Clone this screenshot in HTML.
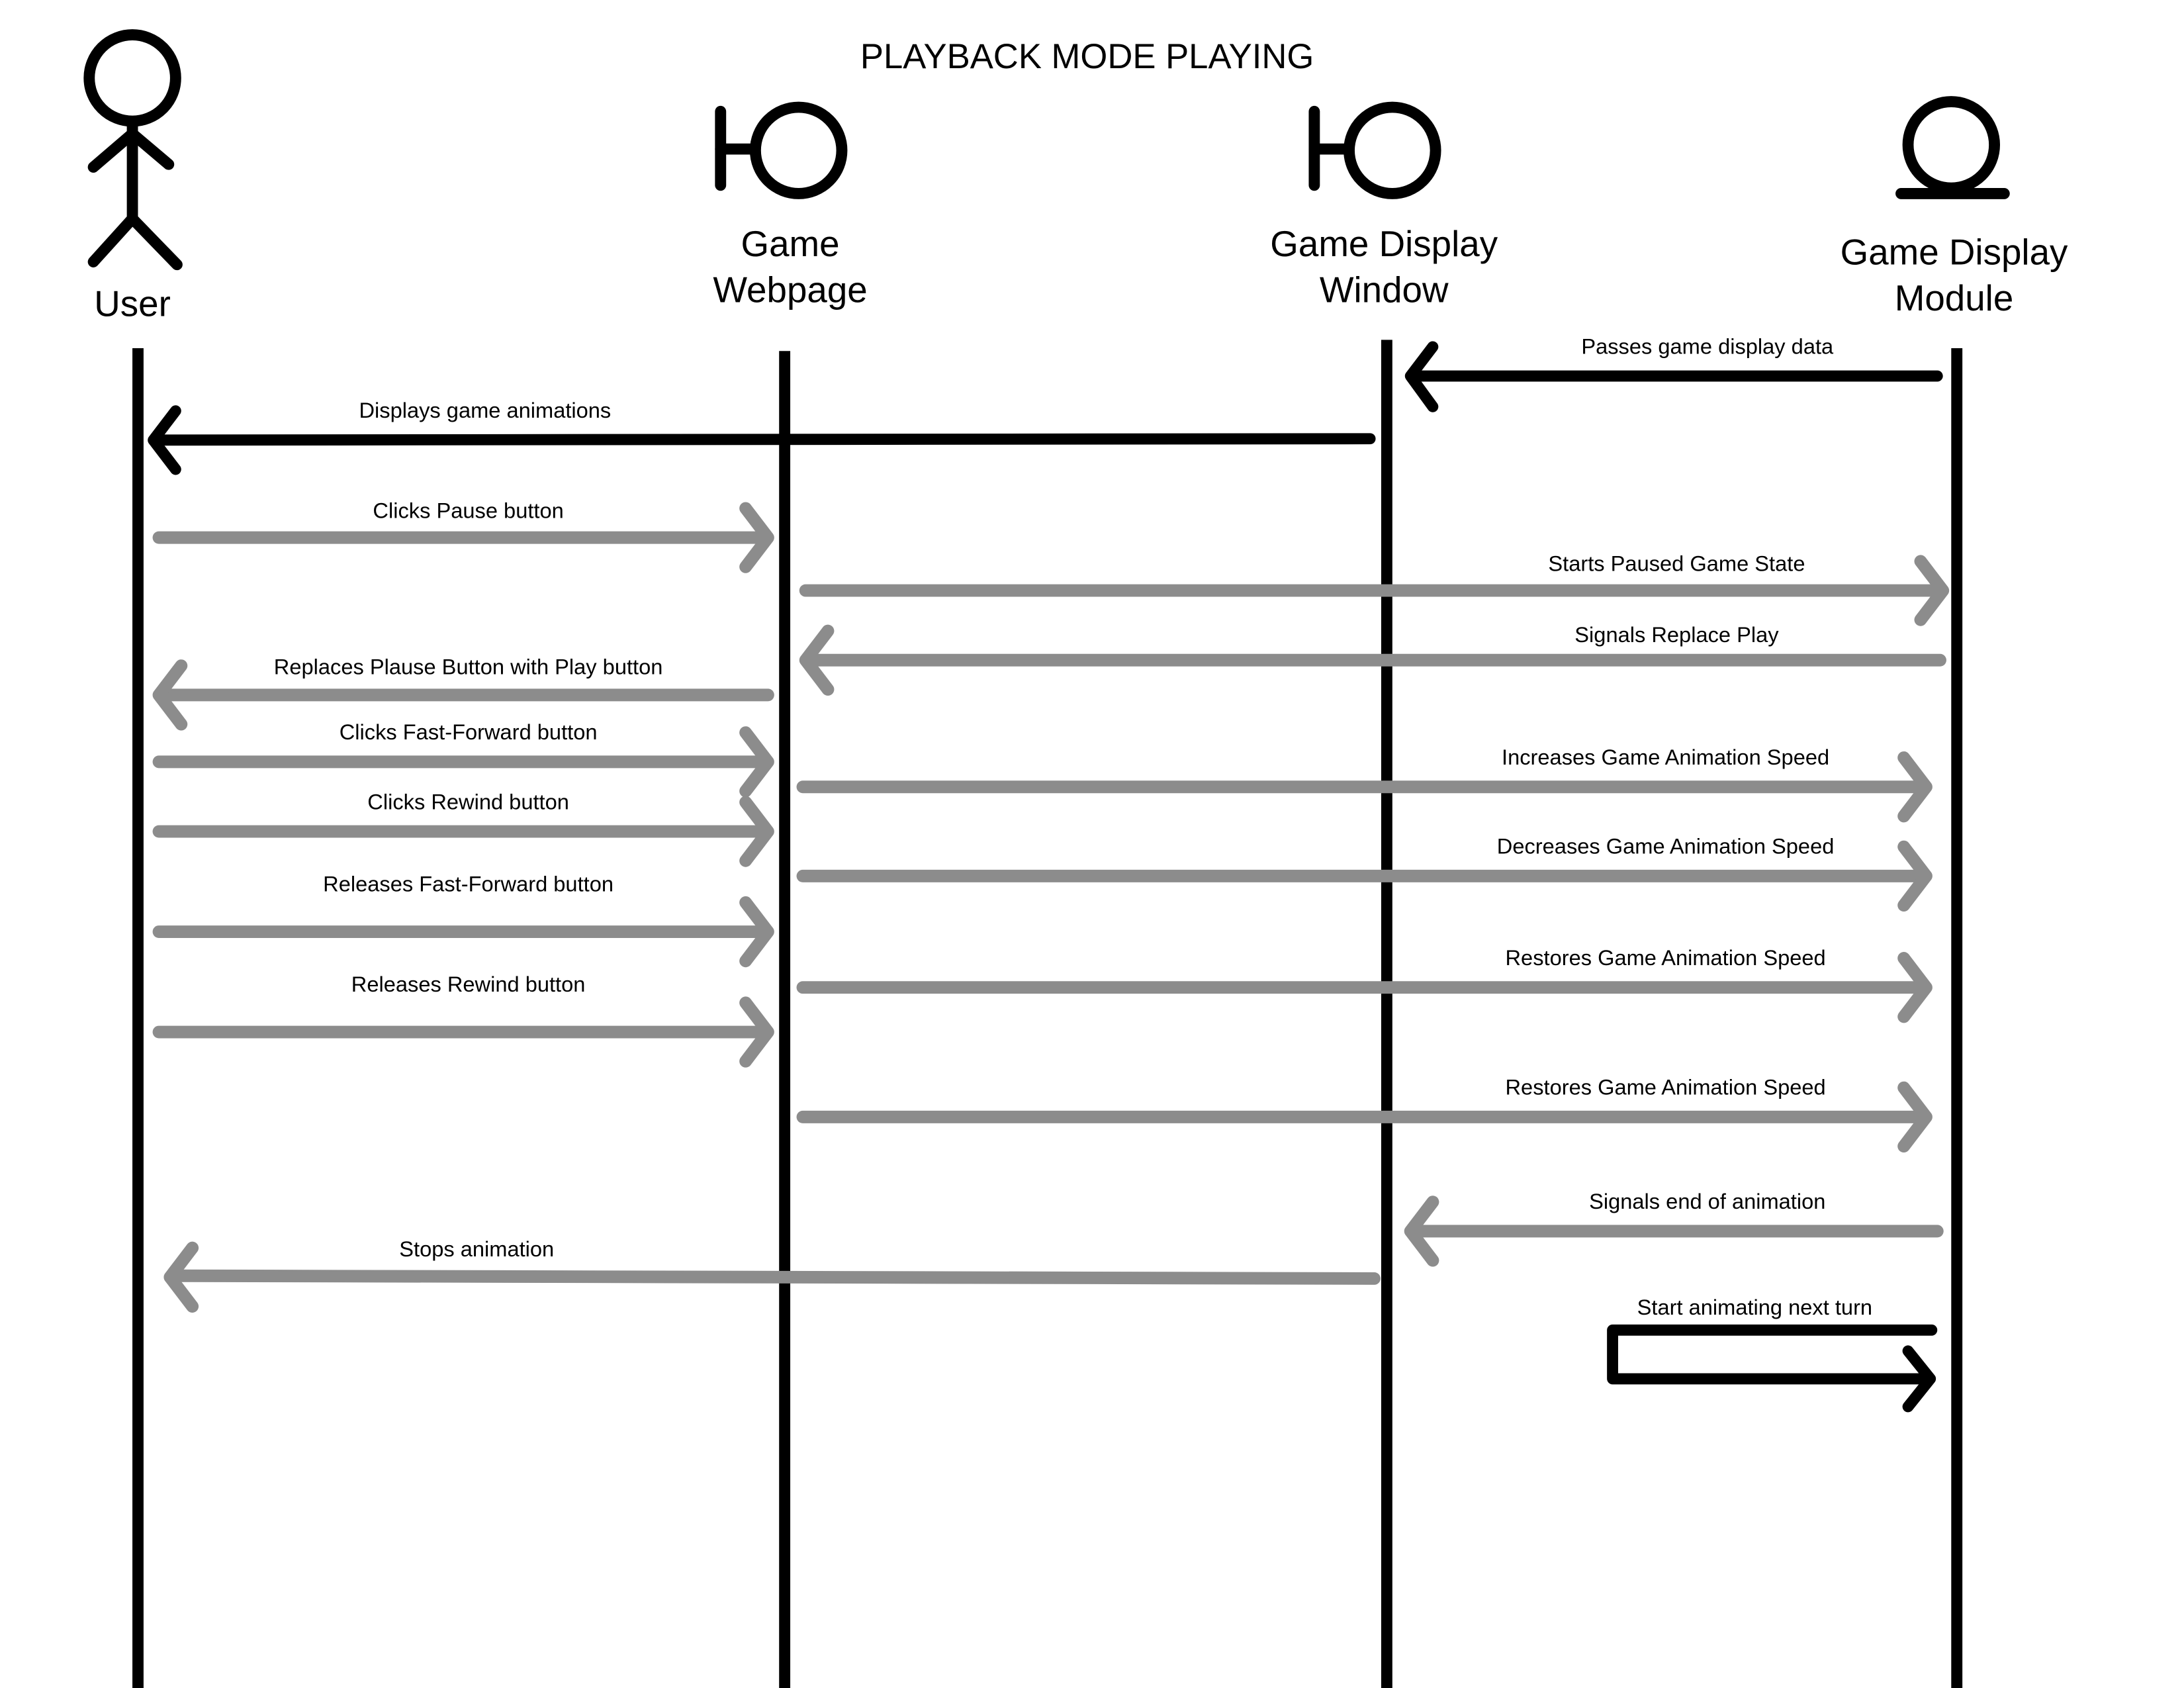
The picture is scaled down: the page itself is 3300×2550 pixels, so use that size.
<!DOCTYPE html>
<html><head><meta charset="utf-8">
<style>
html,body{margin:0;padding:0;background:#fff;}
svg{display:block;}
text{font-family:"Liberation Sans",sans-serif;fill:#000;}
</style></head>
<body>
<svg width="3300" height="2550" viewBox="0 0 1567 1212" preserveAspectRatio="none" xmlns="http://www.w3.org/2000/svg">
<rect width="1567" height="1212" fill="#fff"/>
<text x="780" y="49" font-size="25" text-anchor="middle">PLAYBACK MODE PLAYING</text>

<g stroke="#000" stroke-width="8" fill="none" stroke-linecap="round">
  <circle cx="95" cy="56" r="31"/>
  <line x1="95" y1="88" x2="95" y2="157"/>
  <polyline points="67,120 95,96 121,118"/>
  <polyline points="67,188 95,157 127,190"/>
  <line x1="517" y1="80" x2="517" y2="133"/>
  <line x1="517" y1="107" x2="540" y2="107"/>
  <circle cx="573" cy="108" r="31"/>
  <line x1="943" y1="80" x2="943" y2="133"/>
  <line x1="943" y1="107" x2="966" y2="107"/>
  <circle cx="999" cy="108" r="31"/>
  <circle cx="1400" cy="104" r="31"/>
  <line x1="1364" y1="139" x2="1438" y2="139"/>
  <line x1="99" y1="250" x2="99" y2="1215" stroke-linecap="butt"/>
  <line x1="563" y1="252" x2="563" y2="1215" stroke-linecap="butt"/>
  <line x1="995" y1="244" x2="995" y2="1215" stroke-linecap="butt"/>
  <line x1="1404" y1="250" x2="1404" y2="1215" stroke-linecap="butt"/>
</g>

<g font-size="26" text-anchor="middle">
  <text x="95" y="227">User</text>
  <text x="567" y="184">Game</text>
  <text x="567" y="217">Webpage</text>
  <text x="993" y="184">Game Display</text>
  <text x="993" y="217">Window</text>
  <text x="1402" y="190">Game Display</text>
  <text x="1402" y="223">Module</text>
</g>

<g stroke="#000" stroke-width="8" fill="none" stroke-linecap="round" stroke-linejoin="round">
  <line x1="1390" y1="270" x2="1014" y2="270"/>
  <polyline points="1028,249 1012,270 1028,292"/>
  <line x1="983" y1="315" x2="112" y2="316"/>
  <polyline points="126,295 110,316 126,337"/>
  <polyline points="1386,955 1157,955 1157,990 1383,990"/>
  <polyline points="1369,970 1385,990 1369,1010"/>
</g>

<g stroke="#8c8c8c" stroke-width="9" fill="none" stroke-linecap="round" stroke-linejoin="round">
  <line x1="114" y1="386" x2="549" y2="386"/><polyline points="535,365 551,386 535,407"/>
  <line x1="114" y1="547" x2="549" y2="547"/><polyline points="535,526 551,547 535,568"/>
  <line x1="114" y1="597" x2="549" y2="597"/><polyline points="535,576 551,597 535,618"/>
  <line x1="114" y1="669" x2="549" y2="669"/><polyline points="535,648 551,669 535,690"/>
  <line x1="114" y1="741" x2="549" y2="741"/><polyline points="535,720 551,741 535,762"/>
  <line x1="551" y1="499" x2="116" y2="499"/><polyline points="130,478 114,499 130,520"/>
  <line x1="986" y1="918" x2="124" y2="916"/><polyline points="138,896 122,917 138,938"/>
  <line x1="578" y1="424" x2="1392" y2="424"/><polyline points="1378,403 1394,424 1378,445"/>
  <line x1="1392" y1="474" x2="580" y2="474"/><polyline points="594,453 578,474 594,495"/>
  <line x1="576" y1="565" x2="1380" y2="565"/><polyline points="1366,544 1382,565 1366,586"/>
  <line x1="576" y1="629" x2="1380" y2="629"/><polyline points="1366,608 1382,629 1366,650"/>
  <line x1="576" y1="709" x2="1380" y2="709"/><polyline points="1366,688 1382,709 1366,730"/>
  <line x1="576" y1="802" x2="1380" y2="802"/><polyline points="1366,781 1382,802 1366,823"/>
  <line x1="1390" y1="884" x2="1014" y2="884"/><polyline points="1028,863 1012,884 1028,905"/>
</g>

<g font-size="15.5" text-anchor="middle">
  <text x="1225" y="254">Passes game display data</text>
  <text x="348" y="300">Displays game animations</text>
  <text x="336" y="372">Clicks Pause button</text>
  <text x="1203" y="410">Starts Paused Game State</text>
  <text x="1203" y="461">Signals Replace Play</text>
  <text x="336" y="484">Replaces Plause Button with Play button</text>
  <text x="336" y="531">Clicks Fast-Forward button</text>
  <text x="1195" y="549">Increases Game Animation Speed</text>
  <text x="336" y="581">Clicks Rewind button</text>
  <text x="1195" y="613">Decreases Game Animation Speed</text>
  <text x="336" y="640">Releases Fast-Forward button</text>
  <text x="1195" y="693">Restores Game Animation Speed</text>
  <text x="336" y="712">Releases Rewind button</text>
  <text x="1195" y="786">Restores Game Animation Speed</text>
  <text x="1225" y="868">Signals end of animation</text>
  <text x="342" y="902">Stops animation</text>
  <text x="1259" y="944">Start animating next turn</text>
</g>
</svg>
</body></html>
